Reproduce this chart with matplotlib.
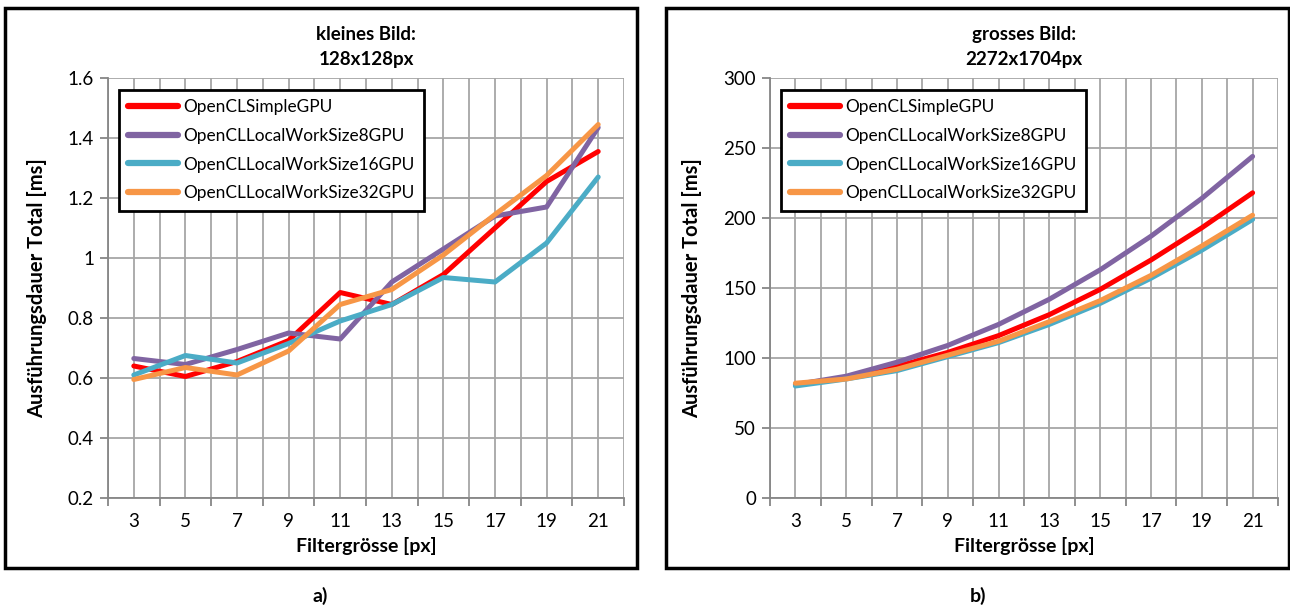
import numpy as np
import matplotlib
matplotlib.use("Agg")
import matplotlib.pyplot as plt
from matplotlib.patches import Rectangle
from matplotlib.ticker import MultipleLocator

plt.rcParams['font.family'] = ['Lato', 'DejaVu Sans']

# filter sizes
filter_px = [3, 5, 7, 9, 11, 13, 15, 17, 19, 21]
series_names = ['OpenCLSimpleGPU', 'OpenCLLocalWorkSize8GPU',
                'OpenCLLocalWorkSize16GPU', 'OpenCLLocalWorkSize32GPU']
colors = ['#FF0000', '#8064A2', '#4BACC6', '#F79646']

# a) small image 128x128 [ms]
small_simple = [0.64, 0.605, 0.655, 0.725, 0.885, 0.845, 0.945, 1.10, 1.255, 1.355]
small_lws8 = [0.665, 0.645, 0.695, 0.75, 0.73, 0.92, 1.03, 1.14, 1.17, 1.435]
small_lws16 = [0.61, 0.675, 0.65, 0.715, 0.79, 0.845, 0.935, 0.92, 1.05, 1.27]
small_lws32 = [0.595, 0.635, 0.61, 0.69, 0.845, 0.895, 1.01, 1.145, 1.275, 1.445]

# b) large image 2272x1704 [ms]
large_simple = [81, 86, 94, 104, 116, 131, 149, 170, 193, 218]
large_lws8 = [81, 87, 97, 109, 124, 142, 163, 187, 214, 244]
large_lws16 = [80, 85, 91, 101, 111, 124, 139, 157, 177, 199]
large_lws32 = [82, 85, 92, 102, 112, 126, 141, 159, 180, 202]

fig = plt.figure(figsize=(12.9, 6.08), dpi=100)

# panel frames
for x0, x1 in [(5, 637), (666, 1289)]:
    fig.patches.append(Rectangle((x0 / 1290, 1 - 568 / 608), (x1 - x0) / 1290, 560 / 608,
                                 transform=fig.transFigure, fill=False,
                                 edgecolor='black', linewidth=2.5, zorder=0))

grid_col = '#A6A6A6'
axis_col = '#868686'


def draw_panel(ax, data, title, ylim, ystep):
    for vals, name, c in zip(data, series_names, colors):
        ax.plot(filter_px, vals, color=c, lw=3.6, label=name, solid_capstyle='round')
    ax.set_xlim(2, 22)
    ax.set_ylim(*ylim)
    ax.yaxis.set_major_locator(MultipleLocator(ystep))
    ax.set_xticks(filter_px)
    ax.set_xticks(range(2, 23, 2), minor=True)
    ax.grid(True, which='both', color=grid_col, lw=1.3)
    ax.set_axisbelow(True)
    for s in ['top', 'right']:
        ax.spines[s].set_visible(False)
    for s in ['left', 'bottom']:
        ax.spines[s].set_color(axis_col)
        ax.spines[s].set_linewidth(1.3)
    ax.tick_params(axis='x', which='major', length=0, pad=11, labelsize=13.5)
    ax.tick_params(axis='x', which='minor', length=6, color=axis_col, width=1.3)
    ax.tick_params(axis='y', length=6, color=axis_col, width=1.3, labelsize=13.5, pad=4)
    ax.set_title(title, fontsize=13.5, fontweight='bold', pad=9, linespacing=1.6)
    ax.set_xlabel('Filtergrösse [px]', fontsize=14, fontweight='bold', labelpad=5)
    ax.set_ylabel('Ausführungsdauer Total [ms]', fontsize=14.5, fontweight='bold', labelpad=15)
    leg = ax.legend(loc='upper left', bbox_to_anchor=(0.004, 0.993), fontsize=12.4,
                    handlelength=2.9, handletextpad=0.3, labelspacing=0.74,
                    borderpad=0.55, fancybox=False, framealpha=1)
    leg.get_frame().set_edgecolor('black')
    leg.get_frame().set_linewidth(2)
    for ln in leg.get_lines():
        ln.set_linewidth(4.5)


ax1 = fig.add_axes([108 / 1290, 110 / 608, 516 / 1290, 420 / 608])
draw_panel(ax1, [small_simple, small_lws8, small_lws16, small_lws32],
           'kleines Bild:\n128x128px', (0.2, 1.6), 0.2)
ax1.yaxis.set_major_formatter(plt.FuncFormatter(lambda v, p: ('%g' % round(v, 1))))

ax2 = fig.add_axes([770 / 1290, 110 / 608, 508 / 1290, 420 / 608])
draw_panel(ax2, [large_simple, large_lws8, large_lws16, large_lws32],
           'grosses Bild:\n2272x1704px', (0, 300), 50)

fig.text(320 / 1290, 1 - 596 / 608, 'a)', ha='center', va='center', fontsize=14, fontweight='bold')
fig.text(978 / 1290, 1 - 596 / 608, 'b)', ha='center', va='center', fontsize=14, fontweight='bold')

fig.savefig('out.png', dpi=100)
